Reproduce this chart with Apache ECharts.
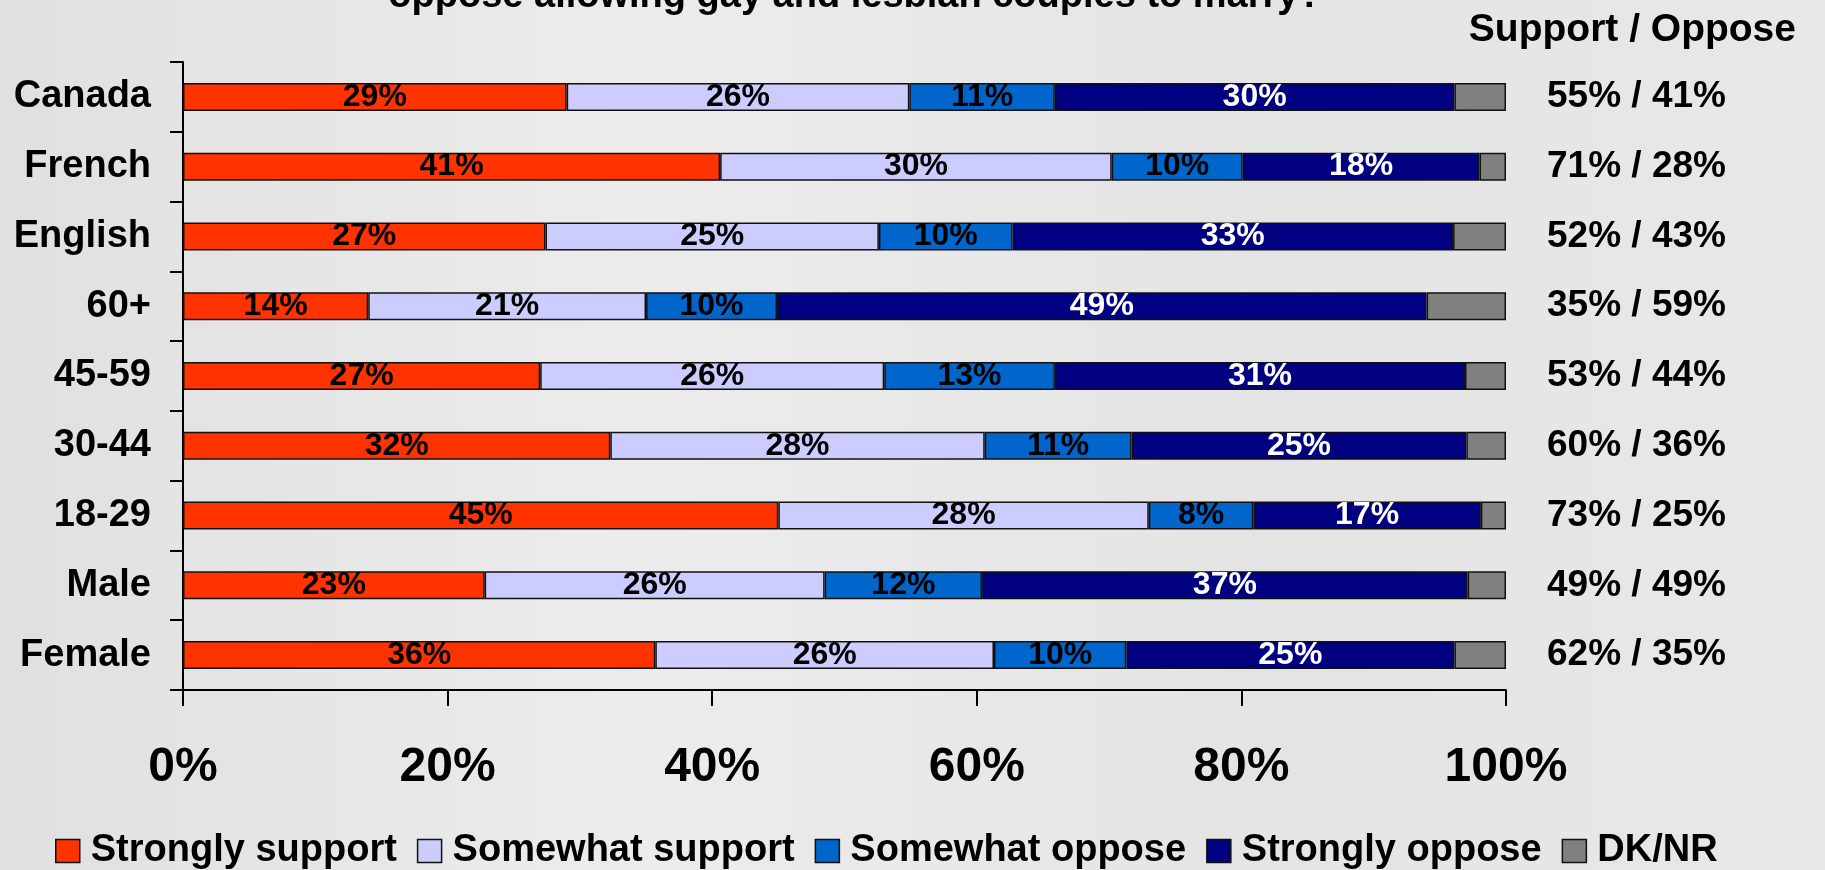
<!DOCTYPE html>
<html>
<head>
<meta charset="utf-8">
<script src="https://cdn.jsdelivr.net/npm/echarts@6/dist/echarts.min.js"></script>
<style>
html,body{margin:0;padding:0;}
#chart{width:1825px;height:870px;}
</style>
</head>
<body>
<div id="chart"></div>
<script>
const categories = ['Canada','French','English','60+','45-59','30-44','18-29','Male','Female'];
const strongSupport = [29, 40.6, 27.4, 14.0, 27.0, 32.3, 45.0, 22.8, 35.7];
const somewhatSupport = [25.9, 29.6, 25.2, 21.0, 26.0, 28.3, 28.0, 25.7, 25.6];
const somewhatOppose = [11.0, 9.9, 10.1, 9.9, 12.9, 11.1, 7.9, 11.9, 10.0];
const strongOppose = [30.2, 17.9, 33.3, 49.1, 31.0, 25.3, 17.2, 36.7, 24.8];
const dkNr = [3.9, 2.0, 4.0, 6.0, 3.1, 3.0, 1.9, 2.9, 3.9];
const supportOppose = ['55% / 41%','71% / 28%','52% / 43%','35% / 59%','53% / 44%','60% / 36%','73% / 25%','49% / 49%','62% / 35%'];
const xTicks = [0, 20, 40, 60, 80, 100];
const seriesNames = ['Strongly support','Somewhat support','Somewhat oppose','Strongly oppose','DK/NR'];
const seriesColors = ['#FF3300','#CCCCFF','#0066CC','#000080','#808080'];
const labelColors = ['#000','#000','#000','#fff',null];
const titleLine = 'oppose allowing gay and lesbian couples to marry?';
const rightHeader = 'Support / Oppose';

const FONT = '"Liberation Sans", Arial, sans-serif';
const chart = echarts.init(document.getElementById('chart'), null, {renderer:'canvas'});
const allData = [strongSupport, somewhatSupport, somewhatOppose, strongOppose, dkNr];

const series = allData.map((d, i) => ({
  name: seriesNames[i],
  type: 'bar',
  stack: 'total',
  barWidth: 28,
  yAxisIndex: 0,
  data: d,
  itemStyle: {color: seriesColors[i], borderColor: '#111', borderWidth: 1.5},
  label: {
    show: labelColors[i] !== null,
    position: 'inside',
    formatter: p => Math.round(p.value) + '%',
    color: labelColors[i] || '#000',
    fontFamily: FONT,
    fontWeight: 'bold',
    fontSize: 32
  },
  emphasis: {disabled: true}
}));

chart.setOption({
  backgroundColor: {
    type: 'linear', x: 0, y: 0, x2: 1, y2: 0,
    colorStops: [
      {offset: 0, color: '#e0e0e0'},
      {offset: 0.35, color: '#ececec'},
      {offset: 0.7, color: '#e4e4e4'},
      {offset: 1, color: '#e8e8e8'}
    ]
  },
  animation: false,
  title: [
    {
      text: titleLine,
      left: 850, textAlign: 'center', top: -30,
      textStyle: {fontFamily: FONT, fontWeight: 'bold', fontSize: 38, lineHeight: 43, color: '#000'}
    },
    {
      text: rightHeader,
      right: 24, top: 6,
      textStyle: {fontFamily: FONT, fontWeight: 'bold', fontSize: 39, color: '#000'}
    }
  ],
  legend: {
    data: seriesNames,
    bottom: -5,
    left: 50,
    itemWidth: 24, itemHeight: 23,
    itemGap: 20,
    icon: 'rect',
    itemStyle: {borderColor: '#111', borderWidth: 1.5},
    textStyle: {fontFamily: FONT, fontWeight: 'bold', fontSize: 38, color: '#000', padding: [0,0,0,6]}
  },
  grid: {left: 183, right: 319, top: 62, bottom: 180, containLabel: false},
  xAxis: {
    type: 'value', min: 0, max: 100, interval: 20,
    axisLine: {show: true, lineStyle: {color: '#000', width: 2}},
    axisTick: {show: true, length: 16, lineStyle: {color: '#000', width: 2}},
    splitLine: {show: false},
    axisLabel: {
      formatter: v => xTicks.includes(v) ? v + '%' : '',
      fontFamily: FONT, fontWeight: 'bold', fontSize: 48, color: '#000', margin: 54
    }
  },
  yAxis: [
    {
      type: 'category', data: categories, inverse: true,
      axisLine: {show: true, lineStyle: {color: '#000', width: 2}},
      axisTick: {show: true, length: 13, lineStyle: {color: '#000', width: 2}},
      axisLabel: {fontFamily: FONT, fontWeight: 'bold', fontSize: 38, color: '#000', margin: 32}
    },
    {
      type: 'category', data: categories, inverse: true, position: 'right',
      axisLine: {show: false}, axisTick: {show: false},
      axisLabel: {
        formatter: (v, idx) => supportOppose[idx],
        fontFamily: FONT, fontWeight: 'bold', fontSize: 37, color: '#000', margin: 41, align: 'left'
      }
    }
  ],
  series: series
});
</script>
</body>
</html>
